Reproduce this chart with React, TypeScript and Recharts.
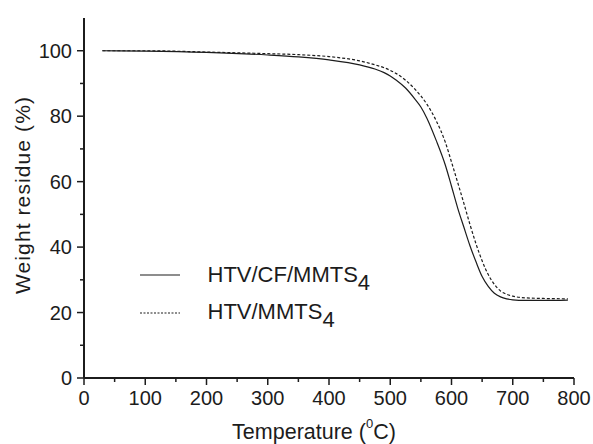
import { Legend, Line, LineChart, XAxis, YAxis } from "recharts";

// temperature grid (°C) and weight residue (%)
const TEMPS = [
  30, 100, 200, 300, 350, 400, 450, 475, 490, 500, 510, 525, 540, 550, 560,
  575, 590, 600, 610, 620, 630, 640, 650, 660, 670, 680, 690, 700, 720, 750,
  790,
];
const HTV_CF_MMTS4 = [
  100, 99.9, 99.5, 98.7, 98.1, 97.2, 95.7, 94.4, 93.3, 92.3, 91.0, 88.6, 85.3,
  82.8, 79.3, 72.6, 65.0, 58.6, 52.0, 46.2, 40.5, 35.5, 31.0, 28.0, 25.9, 24.8,
  24.2, 23.9, 23.7, 23.7, 23.8,
];
const HTV_MMTS4 = [
  100, 100, 99.6, 99.1, 98.8, 98.2, 96.9, 95.7, 94.8, 94.0, 93.0, 91.0, 88.3,
  86.2, 83.6, 78.6, 72.0, 66.0, 59.8, 53.5, 47.0, 41.0, 35.8, 31.6, 28.6, 26.6,
  25.6, 25.0, 24.5, 24.3, 24.2,
];

const X_TICKS = [
  0, 50, 100, 150, 200, 250, 300, 350, 400, 450, 500, 550, 600, 650, 700, 750,
  800,
];
const Y_TICKS = [0, 10, 20, 30, 40, 50, 60, 70, 80, 90, 100];

const FONT = "'Liberation Sans', Arial, Helvetica, sans-serif";
const INK = "#1c1c1c";

const data = TEMPS.map((t, i) => ({
  t,
  cf: HTV_CF_MMTS4[i],
  plain: HTV_MMTS4[i],
}));

function XTick(props: any) {
  const { x, y, payload } = props;
  const major = payload.value % 100 === 0;
  return (
    <g>
      <line x1={x} x2={x} y1={y} y2={y + (major ? 7 : 4)} stroke={INK} strokeWidth={1.5} />
      {major && (
        <text x={x} y={y + 27} textAnchor="middle" fontSize={20} fontFamily={FONT} fill={INK}>
          {payload.value}
        </text>
      )}
    </g>
  );
}

function YTick(props: any) {
  const { x, y, payload } = props;
  const major = payload.value % 20 === 0;
  return (
    <g>
      <line x1={x - (major ? 7 : 4)} x2={x} y1={y} y2={y} stroke={INK} strokeWidth={1.5} />
      {major && (
        <text x={x - 12} y={y + 7} textAnchor="end" fontSize={20} fontFamily={FONT} fill={INK}>
          {payload.value}
        </text>
      )}
    </g>
  );
}

function XTitle(props: any) {
  const vb = props.viewBox;
  return (
    <text
      x={vb.x + vb.width / 2 - 15}
      y={vb.y + 61}
      textAnchor="middle"
      fontSize={21.5}
      fontFamily={FONT}
      fill={INK}
    >
      Temperature (
      <tspan fontSize={13} dy={-11}>
        0
      </tspan>
      <tspan dy={11}>C)</tspan>
    </text>
  );
}

function YTitle(props: any) {
  const vb = props.viewBox;
  const cx = 30;
  const cy = vb.y + vb.height / 2 - 3;
  return (
    <text
      x={cx}
      y={cy}
      transform={`rotate(-90 ${cx} ${cy})`}
      textAnchor="middle"
      fontSize={21}
      letterSpacing={1.1}
      fontFamily={FONT}
      fill={INK}
    >
      Weight residue (%)
    </text>
  );
}

function LegendBox() {
  const rows = [
    { label: "HTV/CF/MMTS", dash: undefined as string | undefined },
    { label: "HTV/MMTS", dash: "2 1.5" },
  ];
  return (
    <svg width={280} height={95} style={{ display: "block", overflow: "visible" }}>
      {rows.map((r, i) => (
        <g key={r.label}>
          <line
            x1={20}
            x2={60}
            y1={20 + i * 38}
            y2={20 + i * 38}
            stroke={INK}
            strokeWidth={1.1}
            strokeDasharray={r.dash}
          />
          <text x={87.5} y={27.3 + i * 37} fontSize={22} fontFamily={FONT} fill={INK}>
            {r.label}
            <tspan dy={8}>4</tspan>
          </text>
        </g>
      ))}
    </svg>
  );
}

export default function App() {
  return (
    <div style={{ position: "absolute", left: 0, top: 0, background: "#fff" }}>
      <LineChart
        width={593}
        height={444}
        data={data}
        margin={{ top: 18, right: 19, bottom: 0, left: 0 }}
      >
        <XAxis
          dataKey="t"
          type="number"
          domain={[0, 800]}
          ticks={X_TICKS}
          interval={0}
          height={66}
          tickSize={0}
          tickMargin={0}
          tickLine={false}
          axisLine={{ stroke: INK, strokeWidth: 2 }}
          tick={<XTick />}
          label={<XTitle />}
        />
        <XAxis
          xAxisId="top"
          orientation="top"
          dataKey="t"
          type="number"
          domain={[0, 800]}
          height={0}
          tick={false}
          tickLine={false}
          axisLine={{ stroke: INK, strokeWidth: 1.6 }}
        />
        <YAxis
          type="number"
          domain={[0, 110]}
          ticks={Y_TICKS}
          interval={0}
          width={84}
          tickSize={0}
          tickMargin={0}
          tickLine={false}
          axisLine={{ stroke: INK, strokeWidth: 2 }}
          tick={<YTick />}
          label={<YTitle />}
        />
        <YAxis
          yAxisId="right"
          orientation="right"
          type="number"
          domain={[0, 110]}
          width={0}
          tick={false}
          tickLine={false}
          axisLine={{ stroke: INK, strokeWidth: 1.6 }}
        />
        <Legend
          layout="horizontal"
          verticalAlign="middle"
          align="center"
          wrapperStyle={{ left: 120, top: 255, width: 280, height: 95 }}
          content={() => <LegendBox />}
        />
        <Line
          type="monotone"
          dataKey="cf"
          stroke={INK}
          strokeWidth={1.2}
          dot={false}
          isAnimationActive={false}
        />
        <Line
          type="monotone"
          dataKey="plain"
          stroke={INK}
          strokeWidth={1.2}
          strokeDasharray="3 2"
          dot={false}
          isAnimationActive={false}
        />
      </LineChart>
    </div>
  );
}
